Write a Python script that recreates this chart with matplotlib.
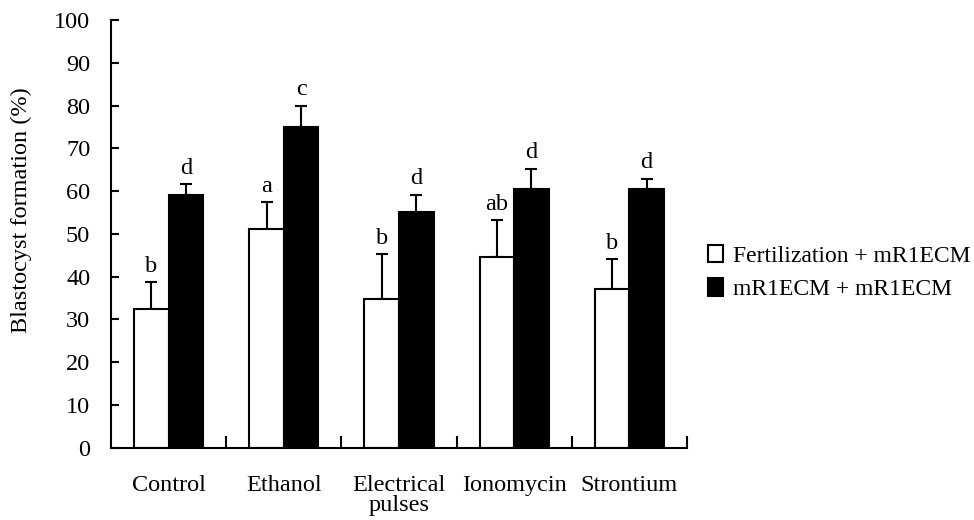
import matplotlib
matplotlib.use("Agg")
import matplotlib.pyplot as plt
import numpy as np
from matplotlib.patches import Patch

categories = ["Control", "Ethanol", "Electrical\npulses", "Ionomycin", "Strontium"]
fert_vals = [32.4, 51.1, 34.8, 44.5, 37.0]
fert_err = [6.3, 6.3, 10.4, 8.7, 7.1]
mr_vals = [59.2, 74.9, 55.2, 60.4, 60.4]
mr_err = [2.4, 5.1, 3.9, 4.8, 2.5]
fert_letters = ["b", "a", "b", "ab", "b"]
mr_letters = ["d", "c", "d", "d", "d"]
series_names = ["Fertilization + mR1ECM", "mR1ECM + mR1ECM"]
yticks = list(range(0, 101, 10))

plt.rcParams['font.family'] = ['Liberation Serif', 'DejaVu Serif']
FS = 17.5

fig = plt.figure(figsize=(9.74, 5.2), dpi=100)
ax = fig.add_axes([111/974, 1-447.7/520, (687-111)/974, (447.7-20)/520])

x = np.arange(len(categories))
w = 0.30
lw = 1.5
ax.bar(x - w/2, fert_vals, w, color="white", edgecolor="black", linewidth=lw, zorder=2)
ax.bar(x + w/2, mr_vals, w, color="black", edgecolor="black", linewidth=lw, zorder=2)
ax.errorbar(x - w/2, fert_vals, yerr=[np.zeros(5), fert_err], fmt="none",
            ecolor="black", elinewidth=1.5, capsize=4.5, capthick=1.5, zorder=1)
ax.errorbar(x + w/2, mr_vals, yerr=[np.zeros(5), mr_err], fmt="none",
            ecolor="black", elinewidth=1.5, capsize=4.5, capthick=1.5, zorder=1)

for i in range(len(categories)):
    ax.annotate(fert_letters[i], (x[i] - w/2, fert_vals[i] + fert_err[i]),
                xytext=(0, 4), textcoords="offset points", ha="center", va="bottom", fontsize=FS)
    ax.annotate(mr_letters[i], (x[i] + w/2, mr_vals[i] + mr_err[i]),
                xytext=(0, 4), textcoords="offset points", ha="center", va="bottom", fontsize=FS)

ax.set_xlim(-0.5, len(categories) - 0.5)
ax.set_ylim(0, 100)
ax.set_yticks(yticks)
ax.set_xticks(x)
ax.set_xticklabels(categories, fontsize=FS, linespacing=0.92)
ax.set_xticks(x + 0.5, minor=True)
ax.tick_params(axis="x", which="major", length=0, pad=20)
ax.tick_params(axis="x", which="minor", direction="in", length=8.6, width=1.5)
ax.tick_params(axis="y", direction="in", length=5.8, width=1.5, pad=15, labelsize=FS)

for s in ["top", "right"]:
    ax.spines[s].set_visible(False)
for s in ["left", "bottom"]:
    ax.spines[s].set_linewidth(1.5)

ax.set_ylabel("Blastocyst formation (%)", fontsize=FS)
ax.yaxis.set_label_coords((32-111)/576, (447.7-210)/427.7)

handles = [Patch(facecolor="white", edgecolor="black", linewidth=1.5),
           Patch(facecolor="black", edgecolor="black", linewidth=1.5)]
fig.legend(handles, series_names, loc="center left", bbox_to_anchor=(708/974, 1-272.5/520),
           frameon=False, fontsize=17, handlelength=0.64, handleheight=0.76,
           handletextpad=0.42, labelspacing=0.5, borderpad=0, borderaxespad=0)

fig.savefig("out.png", dpi=100)
